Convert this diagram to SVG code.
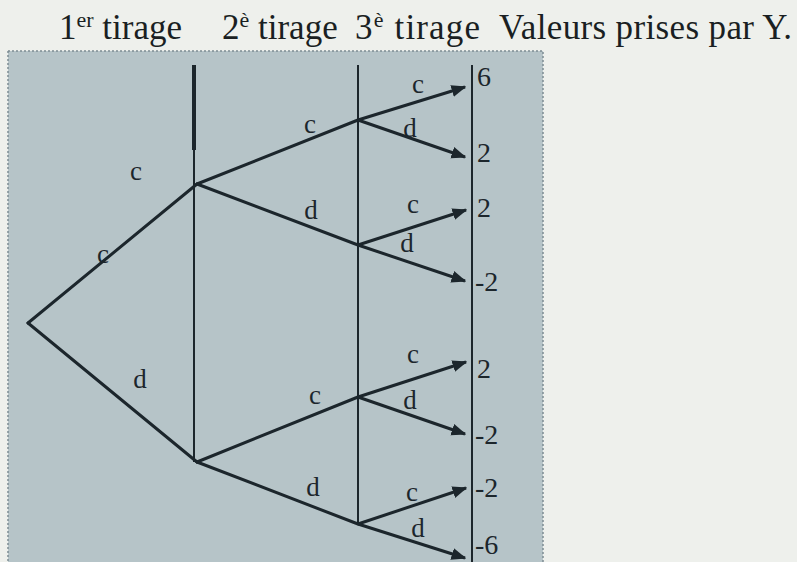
<svg xmlns="http://www.w3.org/2000/svg" width="797" height="562" viewBox="0 0 797 562">
<defs>
<marker id="ah" viewBox="0 0 10 10" refX="9" refY="5" markerWidth="5" markerHeight="5" orient="auto" markerUnits="strokeWidth"><path d="M0,1 L10,5 L0,9 z" fill="#1c262c"/></marker>
</defs>
<style>
text{font-family:"Liberation Serif","Times New Roman","DejaVu Serif",serif}
.hd{font-size:35px;fill:#1a1f22}
.sup{font-size:22px}
.lb{font-size:27px;fill:#1c262c;text-anchor:middle}
.val{font-size:28px;fill:#1c262c}
.e{stroke:#1c262c;stroke-width:3;fill:none;stroke-linecap:round}
.ea{stroke:#1c262c;stroke-width:3;fill:none;marker-end:url(#ah)}
.v{stroke:#1c262c;stroke-width:2;fill:none}
</style>
<rect width="797" height="562" fill="#eef0ec"/>
<rect x="8" y="51" width="535" height="511" fill="#b6c4c8"/>
<path d="M8,51 H543 V562 M8,51 V562" stroke="#7d8c92" stroke-width="1.5" stroke-dasharray="2,2" fill="none"/>
<g id="headers">
<text class="hd" x="59" y="39" font-family="Liberation Serif, serif">1<tspan class="sup" dy="-12">er</tspan><tspan dy="12"> tirage</tspan></text>
<text class="hd" x="222" y="39" font-family="Liberation Serif, serif">2<tspan class="sup" dy="-12">è</tspan><tspan dy="12"> tirage</tspan></text>
<text class="hd" x="355" y="39" font-family="Liberation Serif, serif" textLength="125" lengthAdjust="spacing">3<tspan class="sup" dy="-12">è</tspan><tspan dy="12"> tirage</tspan></text>
<text class="hd" x="499" y="39" font-family="Liberation Serif, serif" textLength="293" lengthAdjust="spacing">Valeurs prises par Y.</text>
</g>
<g id="axes">
<line class="v" x1="194" y1="65" x2="194" y2="462"/>
<line x1="194" y1="65" x2="194" y2="150" stroke="#1c262c" stroke-width="4"/>
<line class="v" x1="358" y1="65" x2="358" y2="525"/>
<line class="v" x1="472" y1="65" x2="472" y2="562"/>
</g>
<g id="connectors">
<line class="e" x1="28" y1="323" x2="197" y2="184"/>
<line class="e" x1="28" y1="323" x2="197" y2="462"/>
<line class="e" x1="197" y1="184" x2="358" y2="120"/>
<line class="e" x1="197" y1="184" x2="358" y2="245"/>
<line class="e" x1="197" y1="462" x2="358" y2="397"/>
<line class="e" x1="197" y1="462" x2="358" y2="524"/>
<line class="ea" x1="358" y1="120" x2="465" y2="87"/>
<line class="ea" x1="358" y1="120" x2="465" y2="157"/>
<line class="ea" x1="358" y1="245" x2="466" y2="210"/>
<line class="ea" x1="358" y1="245" x2="465" y2="281"/>
<line class="ea" x1="358" y1="397" x2="466" y2="362"/>
<line class="ea" x1="358" y1="397" x2="465" y2="434"/>
<line class="ea" x1="358" y1="524" x2="466" y2="488"/>
<line class="ea" x1="358" y1="524" x2="465" y2="558"/>
</g>
<g id="edge-labels" font-family="Liberation Serif, serif">
<text class="lb" x="136" y="180">c</text>
<text class="lb" x="103" y="263">c</text>
<text class="lb" x="140" y="388">d</text>
<text class="lb" x="310" y="133">c</text>
<text class="lb" x="311" y="219">d</text>
<text class="lb" x="315" y="404">c</text>
<text class="lb" x="313" y="496">d</text>
<text class="lb" x="418" y="93">c</text>
<text class="lb" x="410" y="137">d</text>
<text class="lb" x="413" y="213">c</text>
<text class="lb" x="407" y="252">d</text>
<text class="lb" x="413" y="363">c</text>
<text class="lb" x="410" y="409">d</text>
<text class="lb" x="412" y="501">c</text>
<text class="lb" x="418" y="537">d</text>
</g>
<g id="values" font-family="Liberation Serif, serif">
<text class="val" x="477" y="86">6</text>
<text class="val" x="477" y="162">2</text>
<text class="val" x="477" y="217">2</text>
<text class="val" x="475" y="291">-2</text>
<text class="val" x="477" y="378">2</text>
<text class="val" x="475" y="444">-2</text>
<text class="val" x="475" y="497">-2</text>
<text class="val" x="475" y="554">-6</text>
</g>
</svg>
